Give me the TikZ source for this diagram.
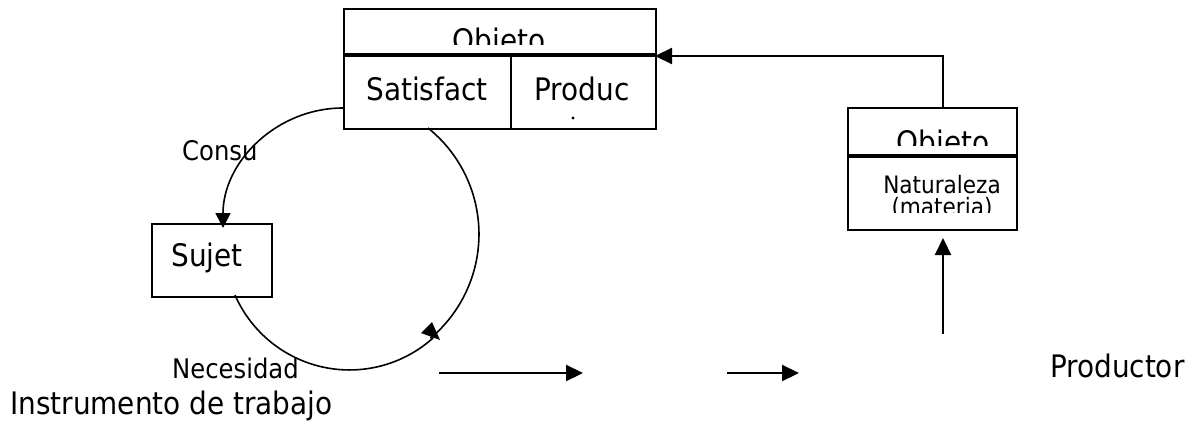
\documentclass[tikz,border=0pt]{standalone}
\usepackage{fontspec}
\setmainfont{DejaVu Sans Condensed}
\usetikzlibrary{arrows.meta}
\begin{document}
\begin{tikzpicture}[x=1pt,y=1pt,yscale=-1,
  box/.style={draw,line width=2pt,inner sep=0pt,anchor=north west},
  lbl/.style={inner sep=0pt,anchor=base},
  lbll/.style={inner sep=0pt,anchor=base west},
  big/.style={font=\fontsize{31}{36}\selectfont},
  mid/.style={font=\fontsize{27}{32}\selectfont},
  small/.style={font=\fontsize{24}{28}\selectfont},
  arr/.style={line width=2.2pt,-{Triangle[length=17pt,width=16pt]}},
  arcline/.style={line width=1.6pt},
  divider/.style={line width=3.2pt}]
\useasboundingbox (0,0) rectangle (1194,423);
% boxes
\node[box,minimum width=312pt,minimum height=120pt] (top) at (343,8) {};
\node[box,minimum width=169pt,minimum height=122pt] (rbox) at (847,107) {};
\node[box,minimum width=120pt,minimum height=73pt] (sujet) at (151,223) {};
\draw[divider] (343,55) -- (655,55);
\draw[line width=2pt] (511,55) -- (511,128);
\draw[divider] (847,156) -- (1016,156);
% texts in top box
\begin{scope}
\clip (343,8) rectangle (655,44);
\node[lbl,big] (objA) at (499,51) {Objeto};
\end{scope}
\node[lbl,big] (sat) at (427,100) {Satisfact};
\node[lbl,big] (prod) at (582,100) {Produc};
\fill (573,118) circle[radius=1.6];
% texts in right box
\begin{scope}
\clip (847,107) rectangle (1016,145);
\node[lbl,big] (objB) at (943,153) {Objeto};
\end{scope}
\node[lbl,small] (nat) at (942,193) {Naturaleza};
\begin{scope}
\clip (847,156) rectangle (1016,212);
\node[lbl,small] (mat) at (942,215) {(materia)};
\end{scope}
% other texts
\node[lbl,big] (suj) at (207,266) {Sujet};
\node[lbll,mid] (cons) at (182,160) {Consu};
\node[lbll,mid] (nec) at (172,378) {Necesidad};
\node[lbll,big] (inst) at (10,414) {Instrumento de trabajo};
\node[lbll,big] (prodr) at (1050,377) {Productor};
% arcs
\draw[arcline,-{Triangle[length=15pt,width=15pt]}] (343,108) arc[start angle=-90,end angle=-180,radius=120];
\draw[arcline] (235,295) arc[start angle=156.4,end angle=48,radius=125];
\draw[arcline] (428,128) arc[start angle=-51.3,end angle=50,radius=136];
\fill (421,333) -- (432,322) -- (440,340) -- cycle;
% connectors
\coordinate (rtop) at (943,107);
\coordinate (tin) at (655,56);
\draw[arr] (rtop) |- (tin);
\coordinate (ubot) at (943,334);
\coordinate (utip) at (943,238);
\draw[arr] (ubot) -- (utip);
\coordinate (h1a) at (439,373);
\coordinate (h1b) at (583,373);
\draw[arr] (h1a) -- (h1b);
\coordinate (h2a) at (727,373);
\coordinate (h2b) at (799,373);
\draw[arr] (h2a) -- (h2b);
\end{tikzpicture}
\end{document}
